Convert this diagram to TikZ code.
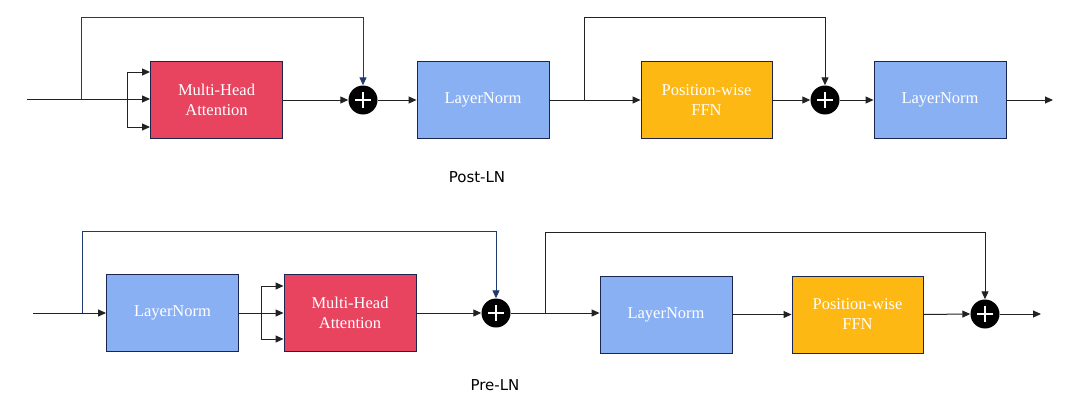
\documentclass[tikz,border=0pt]{standalone}
\usepackage{fontspec}
\setmainfont{Liberation Serif}
\newfontfamily\labelfont{DejaVu Sans}
\usetikzlibrary{arrows.meta}
\definecolor{mhared}{HTML}{E8445F}
\definecolor{lnblue}{HTML}{8AB0F4}
\definecolor{ffnyel}{HTML}{FDB813}
\definecolor{boxedge}{HTML}{1B2550}
\definecolor{linegray}{HTML}{222222}
\definecolor{skipnavy}{HTML}{1F3A6E}
\tikzset{
  blockbox/.style={draw=boxedge, line width=0.9pt, minimum width=132pt, minimum height=77pt,
    inner sep=0pt, text=white, align=center, font=\fontsize{16.5}{20}\selectfont},
  mhabox/.style={blockbox, fill=mhared},
  lnbox/.style={blockbox, fill=lnblue},
  ffnbox/.style={blockbox, fill=ffnyel},
  plusnode/.style={circle, fill=black, minimum size=29pt, inner sep=0pt,
    path picture={
      \draw[white, line width=1.8pt] ([xshift=-8pt]path picture bounding box.center) -- ([xshift=8pt]path picture bounding box.center);
      \draw[white, line width=1.8pt] ([yshift=-8pt]path picture bounding box.center) -- ([yshift=8pt]path picture bounding box.center);}},
  conn/.style={draw=linegray, line width=1pt},
  arr/.style={conn, -{Triangle[length=8pt,width=7pt]}},
  skiparr/.style={draw=skipnavy, line width=1pt, -{Triangle[length=8pt,width=7pt]}},
  caption/.style={font=\labelfont\fontsize{15}{18}\selectfont, text=black}
}
\begin{document}
\begin{tikzpicture}[x=1pt,y=-1pt]
\useasboundingbox (0,0) rectangle (1080,415);
% ---------- Post-LN ----------
\node[mhabox] (mha1) at (216.5,100) {Multi-Head\\Attention};
\node[lnbox] (ln1) at (483,100) {LayerNorm};
\node[ffnbox, minimum width=131pt] (ffn1) at (706.5,100) {Position-wise\\FFN};
\node[lnbox] (ln2) at (940,100) {LayerNorm};
\node[plusnode] (p1) at (363,100) {};
\node[plusnode] (p2) at (825,100) {};
\coordinate (in1) at (27,99);
\coordinate (b1) at (81,99);
\coordinate (t1) at (81,17);
\coordinate (s1) at (127,99);
\coordinate (s1a) at (127,72);
\coordinate (s1c) at (127,127);
\coordinate (b2) at (584,100);
\coordinate (t2) at (584,17);
\coordinate (out1) at (1053,100);
\draw[conn] (in1) -- (s1);
\draw[conn] (s1a) -- (s1c);
\draw[arr] (s1a) -- (s1a -| mha1.west);
\draw[arr] (s1) -- (s1 -| mha1.west);
\draw[arr] (s1c) -- (s1c -| mha1.west);
\draw[skiparr] (b1) -- (t1) -| (p1.north);
\draw[arr] (mha1.east) -- (p1.west);
\draw[arr] (p1.east) -- (ln1.west);
\draw[arr, conn] (b2) -- (t2) -| (p2.north);
\draw[arr] (ln1.east) -- (ffn1.west);
\draw[arr] (ffn1.east) -- (p2.west);
\draw[arr] (p2.east) -- (ln2.west);
\draw[arr] (ln2.east) -- (out1);
\node[caption] (cap1) at (477,177) {Post-LN};
% ---------- Pre-LN ----------
\node[lnbox] (ln3) at (172.5,312.5) {LayerNorm};
\node[mhabox] (mha2) at (350,312.5) {Multi-Head\\Attention};
\node[plusnode] (p3) at (496,313) {};
\node[lnbox] (ln4) at (666,314.5) {LayerNorm};
\node[ffnbox, minimum width=131pt] (ffn2) at (857.5,314.5) {Position-wise\\FFN};
\node[plusnode] (p4) at (985,314) {};
\coordinate (in2) at (33,313);
\coordinate (b3) at (82,313);
\coordinate (t3) at (82,231);
\coordinate (s2) at (261,313);
\coordinate (s2a) at (261,286);
\coordinate (s2c) at (261,339);
\coordinate (b4) at (545,314);
\coordinate (t4) at (545,232);
\coordinate (out2) at (1041,314);
\draw[arr] (in2) -- (ln3.west |- in2);
\draw[skiparr] (b3) -- (t3) -| (p3.north);
\draw[conn] (ln3.east |- s2) -- (s2);
\draw[conn] (s2a) -- (s2c);
\draw[arr] (s2a) -- (s2a -| mha2.west);
\draw[arr] (s2) -- (s2 -| mha2.west);
\draw[arr] (s2c) -- (s2c -| mha2.west);
\draw[arr] (mha2.east |- p3) -- (p3.west);
\draw[arr] (p3.east) -- (p3.east -| ln4.west);
\draw[arr] (b4) -- (t4) -| (p4.north);
\draw[arr] (ln4.east) -- (ffn2.west);
\draw[arr] (ffn2.east) -- (p4.west);
\draw[arr] (p4.east) -- (out2);
\node[caption] (cap2) at (495,385) {Pre-LN};
\end{tikzpicture}
\end{document}
